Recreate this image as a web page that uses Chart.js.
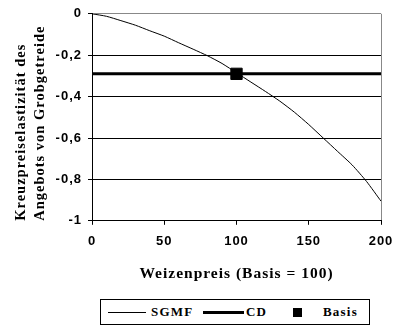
<!DOCTYPE html>
<html>
<head>
<meta charset="utf-8">
<script src="https://cdn.jsdelivr.net/npm/chart.js@4/dist/chart.umd.min.js"></script>
<style>
  body { margin: 0; background: #fff; }
  #wrap { position: relative; width: 397px; height: 327px; }
  #legend {
    position: absolute; left: 100px; top: 299px; width: 268px; height: 24px;
    border: 1px solid #000; background: #fff;
    font: bold 13px "Liberation Serif", "Times New Roman", serif; letter-spacing: 1.2px; color: #000;
  }
  #legend span { position: absolute; }
  #legend .txt { top: 4px; line-height: 16px; }
</style>
</head>
<body>
<div id="wrap">
  <canvas id="chartElast" width="397" height="327"></canvas>
  <div id="legend">
    <span style="left:7px;top:12px;width:38px;border-top:1px solid #000"></span>
    <span class="txt" style="left:50px">SGMF</span>
    <span style="left:102px;top:11px;width:41px;border-top:3px solid #000"></span>
    <span class="txt" style="left:145px">CD</span>
    <span style="left:192px;top:8px;width:9px;height:9px;background:#000"></span>
    <span class="txt" style="left:222px">Basis</span>
  </div>
</div>
<script>
  const prices  = [0, 10, 20, 30, 40, 50, 60, 70, 80, 90, 100, 110, 120, 130, 140, 150, 160, 170, 180, 190, 200];
  const sgmf    = [0, -0.012, -0.033, -0.055, -0.082, -0.108, -0.14, -0.171, -0.203, -0.24, -0.285,
                   -0.33, -0.375, -0.422, -0.475, -0.535, -0.6, -0.665, -0.73, -0.81, -0.905];
  const cd      = prices.map(() => -0.29);
  const basisX  = [100];
  const basisY  = [-0.29];
  const yTitle  = ['Kreuzpreiselastizität des', 'Angebots von Grobgetreide'];
  const xTitle  = 'Weizenpreis (Basis = 100)';

  const xy = (xs, ys) => xs.map((x, i) => ({ x, y: ys[i] }));
  const serif     = '"Liberation Serif", "Times New Roman", serif';
  const tickFont  = { family: '"Liberation Sans", Arial, sans-serif', size: 13, weight: 'bold' };

  // the original text is set a little wider than the canvas default
  const spacing = {
    id: 'spacing',
    beforeDraw: chart => { chart.ctx.letterSpacing = '1px'; },
  };

  new Chart(document.getElementById('chartElast'), {
    type: 'line',
    data: {
      datasets: [
        {
          label: 'SGMF',
          data: xy(prices, sgmf),
          borderColor: '#000',
          borderWidth: 1,
          pointRadius: 0,
          tension: 0.2,
        },
        {
          label: 'CD',
          data: xy(prices, cd),
          borderColor: '#000',
          borderWidth: 3,
          pointRadius: 0,
        },
        {
          label: 'Basis',
          data: xy(basisX, basisY),
          showLine: false,
          pointStyle: 'rect',
          pointRadius: 8,
          pointBackgroundColor: '#000',
          pointBorderColor: '#000',
        },
      ],
    },
    plugins: [spacing],
    options: {
      responsive: false,
      animation: false,
      layout: { padding: { left: 12, top: 12, right: 9, bottom: 44 } },
      plugins: {
        legend: { display: false },
        tooltip: { enabled: false },
      },
      scales: {
        x: {
          type: 'linear',
          min: 0,
          max: 200,
          afterFit: s => { s.paddingRight = 16; },
          ticks: { stepSize: 50, color: '#000', font: tickFont, padding: 9, maxRotation: 0 },
          grid: {
            color: ctx => ctx.tick && ctx.tick.value === 200 ? '#888' : 'transparent',
            tickColor: '#000',
            tickLength: 4,
          },
          border: { color: '#000' },
          title: {
            display: true, text: xTitle, color: '#000',
            font: { family: serif, size: 15.5, weight: 'bold', lineHeight: 1.2 },
            padding: { top: 6, bottom: 0 },
          },
        },
        y: {
          min: -1,
          max: 0,
          afterFit: s => { s.width = 80; },
          ticks: {
            stepSize: 0.2,
            color: '#000',
            font: tickFont,
            padding: 6,
            callback: v => String(Math.round(v * 10) / 10).replace('.', ','),
          },
          grid: {
            color: ctx => ctx.tick && ctx.tick.value === 0 ? '#888' : '#000',
            tickColor: '#000',
            tickLength: 4,
          },
          border: { color: '#000' },
          title: {
            display: true, text: yTitle, align: 'start', color: '#000',
            font: { family: serif, size: 14.5, weight: 'bold', lineHeight: 1.3 },
            padding: { top: 0, bottom: 4 },
          },
        },
      },
    },
  });
</script>
</body>
</html>
